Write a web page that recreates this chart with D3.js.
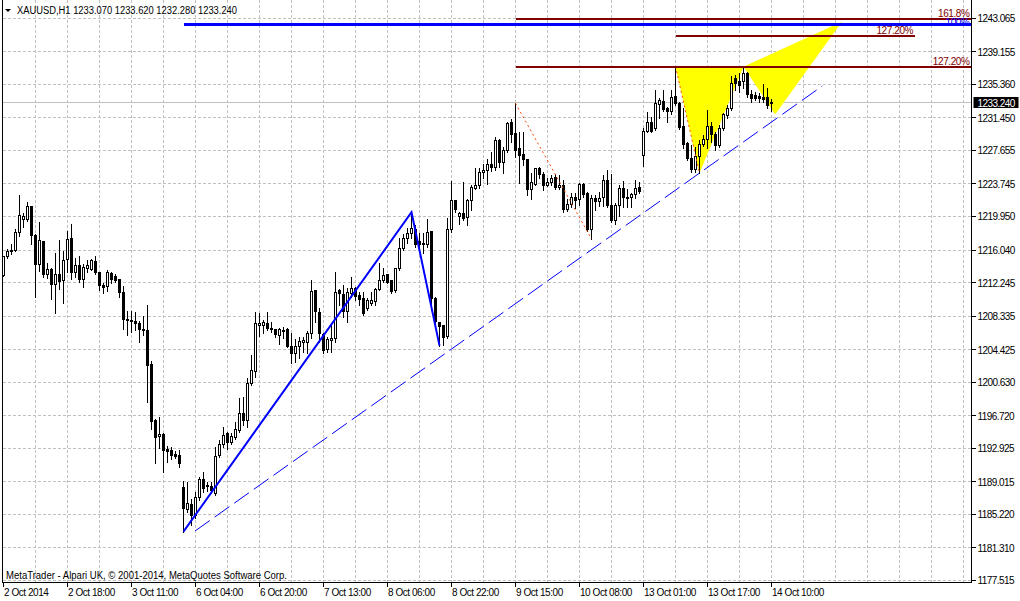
<!DOCTYPE html>
<html>
<head>
<meta charset="utf-8">
<script src="https://cdn.jsdelivr.net/npm/d3@7"></script>
<style>
  html, body { margin: 0; padding: 0; background: #fff; }
  svg { display: block; }
</style>
</head>
<body>
<script>
const width = 1020;
const height = 601;

const symbol = 'XAUUSD,H1';
const copyright = 'MetaTrader - Alpari UK, \u00a9 2001-2014, MetaQuotes Software Corp.';

// hourly bars
const opens = [
  1213.04, 1215.30, 1215.88, 1215.96, 1218.10, 1219.57, 1219.65, 1221.13, 1217.78, 1214.32,
  1217.05, 1213.16, 1213.82, 1211.99, 1213.24, 1212.46, 1214.91, 1217.43, 1213.43, 1214.29,
  1212.65, 1213.90, 1213.82, 1214.75, 1213.43, 1211.95, 1211.80, 1213.35, 1212.92, 1212.65,
  1211.10, 1207.99, 1207.87, 1207.68, 1207.52, 1206.82, 1206.70, 1202.74, 1196.13, 1194.26,
  1194.50, 1192.75, 1192.63, 1192.24, 1192.05, 1188.35, 1185.80, 1186.30, 1185.02, 1187.19,
  1189.29, 1188.63, 1188.51, 1187.66, 1192.05, 1193.30, 1194.58, 1193.57, 1194.15, 1194.97,
  1196.99, 1196.21, 1200.49, 1201.85, 1207.29, 1207.29, 1207.49, 1206.91, 1206.71, 1206.05,
  1206.63, 1206.71, 1204.84, 1203.99, 1204.77, 1205.23, 1205.23, 1206.32, 1211.26, 1208.77,
  1206.13, 1204.38, 1205.47, 1205.66, 1211.26, 1210.87, 1208.85, 1210.99, 1211.50, 1210.68,
  1210.41, 1209.16, 1209.82, 1210.02, 1211.46, 1212.43, 1213.13, 1212.43, 1211.26, 1213.83,
  1216.24, 1217.41, 1217.99, 1218.38, 1217.02, 1216.63, 1216.63, 1218.18, 1210.41, 1207.61,
  1207.18, 1205.94, 1218.38, 1221.76, 1219.93, 1220.32, 1219.81, 1221.76, 1223.23, 1223.54,
  1225.06, 1225.37, 1226.03, 1225.64, 1228.87, 1226.27, 1227.70, 1230.93, 1229.65, 1227.90,
  1227.20, 1226.54, 1223.04, 1223.70, 1225.49, 1224.87, 1223.62, 1223.89, 1224.48, 1223.31,
  1223.62, 1220.71, 1221.37, 1222.15, 1221.88, 1223.70, 1222.65, 1218.38, 1222.07, 1221.68,
  1222.15, 1224.09, 1221.22, 1219.43, 1221.22, 1223.16, 1222.15, 1222.15, 1222.46, 1223.32,
  1227.05, 1229.85, 1230.94, 1230.16, 1233.04, 1233.35, 1232.49, 1232.18, 1233.93, 1233.15,
  1230.43, 1228.49, 1226.74, 1225.38, 1226.93, 1228.29, 1228.88, 1230.43, 1229.46, 1228.21,
  1230.24, 1231.71, 1232.57, 1236.07, 1235.68, 1235.68, 1236.65, 1234.20, 1234.05, 1233.93,
  1233.81, 1233.81, 1233.07
];
const highs = [
  1215.37, 1216.15, 1216.73, 1218.48, 1222.45, 1220.35, 1221.59, 1221.21, 1217.90, 1219.34,
  1217.12, 1214.52, 1213.90, 1215.68, 1217.20, 1215.96, 1218.29, 1219.07, 1215.06, 1215.37,
  1214.40, 1214.91, 1214.99, 1215.37, 1213.51, 1212.15, 1213.70, 1213.51, 1213.24, 1212.70,
  1211.80, 1208.88, 1208.88, 1208.76, 1207.79, 1208.38, 1209.62, 1203.05, 1196.32, 1196.59,
  1194.65, 1193.13, 1193.02, 1192.55, 1192.71, 1189.13, 1189.01, 1186.96, 1187.85, 1189.60,
  1190.19, 1189.02, 1189.02, 1193.10, 1193.88, 1195.36, 1194.85, 1194.74, 1196.02, 1198.74,
  1198.86, 1201.07, 1203.79, 1208.85, 1208.65, 1207.88, 1208.85, 1207.68, 1206.83, 1206.91,
  1207.10, 1206.91, 1206.32, 1205.62, 1205.93, 1205.86, 1206.63, 1212.55, 1211.38, 1209.32,
  1206.32, 1205.94, 1207.49, 1213.44, 1211.50, 1211.96, 1211.57, 1212.93, 1211.77, 1211.19,
  1211.19, 1210.41, 1211.19, 1211.57, 1214.49, 1213.91, 1213.21, 1212.55, 1213.91, 1217.41,
  1217.87, 1218.57, 1220.44, 1218.96, 1217.99, 1217.99, 1219.66, 1218.26, 1210.60, 1207.69,
  1207.30, 1219.74, 1224.09, 1221.87, 1220.51, 1223.93, 1221.99, 1223.62, 1225.64, 1225.57,
  1226.03, 1226.65, 1227.51, 1229.26, 1228.99, 1228.09, 1231.01, 1231.32, 1233.15, 1229.84,
  1229.77, 1226.65, 1224.98, 1225.64, 1225.76, 1225.18, 1224.40, 1224.79, 1224.87, 1224.79,
  1224.21, 1221.99, 1222.65, 1222.65, 1223.82, 1223.82, 1222.77, 1222.46, 1222.46, 1222.85,
  1224.79, 1225.38, 1224.87, 1221.49, 1223.63, 1224.09, 1223.16, 1222.65, 1224.21, 1224.01,
  1230.24, 1232.18, 1231.60, 1234.71, 1233.73, 1234.71, 1232.76, 1234.71, 1237.45, 1233.35,
  1232.57, 1228.60, 1228.29, 1228.10, 1228.88, 1229.46, 1232.38, 1231.01, 1229.77, 1230.63,
  1231.99, 1232.96, 1236.38, 1236.46, 1236.65, 1237.43, 1236.85, 1234.71, 1234.51, 1234.32,
  1235.37, 1234.90, 1233.62
];
const lows = [
  1212.96, 1215.06, 1215.53, 1215.88, 1217.71, 1218.68, 1219.46, 1216.73, 1210.51, 1213.62,
  1212.85, 1212.73, 1210.32, 1208.69, 1211.49, 1209.85, 1213.43, 1212.65, 1212.85, 1212.26,
  1211.76, 1213.51, 1213.74, 1213.24, 1211.37, 1210.98, 1211.29, 1212.19, 1212.34, 1210.51,
  1206.82, 1206.16, 1206.51, 1206.74, 1205.34, 1206.16, 1198.27, 1195.16, 1191.15, 1192.94,
  1190.10, 1191.35, 1191.66, 1191.73, 1190.76, 1183.20, 1185.50, 1184.00, 1184.80, 1186.88,
  1187.85, 1187.97, 1187.74, 1187.47, 1191.94, 1193.10, 1192.79, 1193.41, 1193.96, 1194.85,
  1195.63, 1195.44, 1200.30, 1201.19, 1206.01, 1206.32, 1206.71, 1206.52, 1205.93, 1205.04,
  1205.74, 1204.77, 1202.82, 1203.02, 1203.41, 1204.18, 1204.07, 1205.74, 1207.69, 1205.35,
  1203.99, 1204.19, 1204.19, 1205.35, 1209.63, 1208.27, 1207.69, 1210.60, 1210.21, 1209.63,
  1208.46, 1209.05, 1209.63, 1209.63, 1211.38, 1212.35, 1212.16, 1210.99, 1211.19, 1213.71,
  1216.05, 1216.82, 1217.41, 1216.43, 1216.43, 1215.66, 1216.43, 1209.05, 1207.10, 1204.89,
  1204.96, 1205.74, 1218.18, 1220.51, 1219.03, 1219.54, 1218.96, 1220.71, 1223.16, 1223.31,
  1224.48, 1223.70, 1225.26, 1225.37, 1225.76, 1224.98, 1227.51, 1228.68, 1226.93, 1223.82,
  1225.96, 1222.46, 1221.99, 1223.62, 1224.40, 1223.04, 1223.54, 1223.62, 1223.16, 1223.16,
  1220.51, 1220.59, 1221.10, 1220.90, 1221.29, 1222.27, 1218.26, 1217.33, 1220.71, 1221.22,
  1221.22, 1221.10, 1219.35, 1219.04, 1220.05, 1221.10, 1221.10, 1221.10, 1222.07, 1222.65,
  1225.88, 1229.77, 1229.77, 1230.04, 1231.40, 1232.26, 1231.01, 1231.87, 1232.96, 1230.16,
  1227.90, 1226.54, 1225.18, 1225.18, 1225.00, 1228.21, 1227.90, 1228.68, 1227.71, 1228.10,
  1230.04, 1231.40, 1232.38, 1234.71, 1234.51, 1234.90, 1233.93, 1233.35, 1233.54, 1233.35,
  1233.35, 1232.57, 1232.28
];
const closes = [
  1215.26, 1215.92, 1215.96, 1218.10, 1220.12, 1219.96, 1221.13, 1217.71, 1214.32, 1217.20,
  1213.16, 1213.82, 1211.99, 1213.24, 1212.34, 1214.87, 1217.32, 1213.43, 1214.29, 1212.57,
  1213.97, 1214.29, 1214.79, 1213.43, 1211.87, 1211.72, 1213.43, 1212.65, 1212.50, 1211.10,
  1207.91, 1207.79, 1207.71, 1207.48, 1206.74, 1206.63, 1202.54, 1196.01, 1194.18, 1194.57,
  1192.63, 1192.59, 1192.12, 1191.93, 1191.15, 1185.90, 1186.42, 1185.13, 1187.19, 1189.33,
  1188.24, 1188.44, 1187.97, 1192.01, 1193.41, 1194.46, 1193.57, 1194.27, 1195.05, 1196.99,
  1196.14, 1200.49, 1201.93, 1207.41, 1207.49, 1207.61, 1206.91, 1206.79, 1206.13, 1206.71,
  1206.52, 1204.84, 1203.99, 1204.77, 1205.35, 1205.43, 1206.32, 1211.19, 1208.85, 1206.32,
  1204.30, 1205.62, 1205.74, 1211.11, 1210.95, 1208.85, 1211.07, 1211.57, 1210.60, 1210.29,
  1208.66, 1210.10, 1210.10, 1211.46, 1212.43, 1213.01, 1212.27, 1211.19, 1213.83, 1216.24,
  1217.41, 1217.99, 1218.57, 1216.63, 1216.63, 1216.82, 1218.07, 1210.41, 1207.69, 1207.10,
  1205.82, 1218.38, 1221.76, 1220.71, 1220.32, 1219.73, 1221.76, 1223.31, 1223.54, 1225.10,
  1225.37, 1226.03, 1225.64, 1228.87, 1226.27, 1227.70, 1230.82, 1229.53, 1227.59, 1227.12,
  1226.54, 1223.04, 1223.93, 1225.49, 1224.87, 1223.62, 1223.93, 1224.40, 1223.31, 1223.62,
  1220.71, 1221.37, 1222.15, 1221.76, 1223.70, 1222.54, 1218.38, 1222.07, 1221.68, 1222.07,
  1224.09, 1221.22, 1219.43, 1221.22, 1223.24, 1222.15, 1222.07, 1222.54, 1223.16, 1222.85,
  1229.92, 1230.94, 1229.85, 1233.15, 1233.42, 1232.37, 1232.18, 1233.81, 1233.15, 1230.31,
  1228.29, 1226.74, 1225.38, 1226.93, 1228.37, 1228.88, 1230.43, 1229.46, 1228.21, 1230.24,
  1231.79, 1232.49, 1235.49, 1235.49, 1235.21, 1236.65, 1234.20, 1233.74, 1233.74, 1233.74,
  1233.54, 1232.88, 1233.24
];

const priceTicks = [
  1243.065, 1239.155, 1235.360, 1231.450, 1227.655, 1223.745, 1219.950, 1216.040, 1212.245,
  1208.335, 1204.425, 1200.630, 1196.720, 1192.925, 1189.015, 1185.220, 1181.310, 1177.515
];
const timeLabels = [
  '2 Oct 2014', '2 Oct 18:00', '3 Oct 11:00', '6 Oct 04:00', '6 Oct 20:00', '7 Oct 13:00',
  '8 Oct 06:00', '8 Oct 22:00', '9 Oct 15:00', '10 Oct 08:00', '13 Oct 01:00', '13 Oct 17:00',
  '14 Oct 10:00'
];
const barsPerLabel = 16;
const barsPerGrid = 8;
const visibleBars = 242;

// objects drawn on the chart, as [bar index, price]
const zigzag = [[45, 1183.20], [102, 1220.44], [109, 1204.89]];
const trendDashed = [[47.9, 1183.27], [204.7, 1235.17]];
const dottedLines = [
  [[128, 1233.15], [147, 1217.33]],
  [[168, 1237.45], [174, 1225.00]]
];
const triangles = [
  [[168, 1237.42], [174, 1225.00], [185, 1237.42]],
  [[185, 1237.42], [209.6, 1242.67], [192.9, 1231.84]]
];
const fibNames = ['161.8%', '100%', '127.20%', '127.20%'];
const fibPrices = [1242.99, 1242.37, 1241.03, 1237.41];
const fibFrom = [128, 45, 168, 128];
const fibTo = [visibleBars, visibleBars, 227.9, visibleBars];

const colors = {
  grid: '#c0c0c0',
  bull: '#ffffff',
  bear: '#000000',
  fib: '#800000',
  blue: '#0000ff',
  dotted: '#ff4500',
  triangle: '#ffff00'
};

const plotLeft = 2.5;
const plotRight = 971.5;
const plotBottom = 582.5;

const x = d3.scaleLinear()
    .domain([0, visibleBars])
    .range([3.5, 971.5]);

const y = d3.scaleLinear()
    .domain([1177.515, 1243.065])
    .range([580.3, 18.3]);

// keep 1px lines on the pixel grid
const snap = v => Math.round(v - 0.5) + 0.5;

const svg = d3.select('body').append('svg')
    .attr('width', width)
    .attr('height', height)
    .attr('font-family', "'Liberation Sans', Arial, sans-serif")
    .attr('font-size', 10);

// grid
const gridV = svg.append('g')
    .attr('stroke', colors.grid)
    .attr('stroke-dasharray', '3,2')
    .attr('shape-rendering', 'crispEdges');
gridV.selectAll('line')
    .data(d3.range(barsPerGrid, visibleBars, barsPerGrid))
    .join('line')
    .attr('x1', d => snap(x(d)))
    .attr('x2', d => snap(x(d)))
    .attr('y1', 0)
    .attr('y2', plotBottom);

const gridH = svg.append('g')
    .attr('stroke', colors.grid)
    .attr('stroke-dasharray', '3,2')
    .attr('shape-rendering', 'crispEdges');
gridH.selectAll('line')
    .data(priceTicks)
    .join('line')
    .attr('x1', plotLeft)
    .attr('x2', plotRight)
    .attr('y1', d => snap(y(d)))
    .attr('y2', d => snap(y(d)));

const last = closes.length - 1;

// bid line
svg.append('line')
    .attr('x1', plotLeft)
    .attr('x2', plotRight)
    .attr('y1', snap(y(closes[last])))
    .attr('y2', snap(y(closes[last])))
    .attr('stroke', colors.grid)
    .attr('shape-rendering', 'crispEdges');

// yellow triangles sit behind the bars
svg.append('g')
    .selectAll('polygon')
    .data(triangles)
    .join('polygon')
    .attr('points', d => d.map(p => [x(p[0]), y(p[1])].join(',')).join(' '))
    .attr('fill', colors.triangle);

// candles
const bars = d3.range(opens.length).map(i => ({
    i,
    o: opens[i],
    h: highs[i],
    l: lows[i],
    c: closes[i]
}));

const bar = svg.append('g')
    .attr('shape-rendering', 'crispEdges')
    .selectAll('g')
    .data(bars)
    .join('g');

bar.append('line')
    .attr('x1', d => snap(x(d.i)))
    .attr('x2', d => snap(x(d.i)))
    .attr('y1', d => Math.round(y(d.h)))
    .attr('y2', d => Math.round(y(d.l)) + 1)
    .attr('stroke', '#000');

bar.append('rect')
    .attr('x', d => snap(x(d.i)) - 1)
    .attr('y', d => snap(y(Math.max(d.o, d.c))))
    .attr('width', 2)
    .attr('height', d => Math.max(snap(y(Math.min(d.o, d.c))) - snap(y(Math.max(d.o, d.c))), 1))
    .attr('fill', d => d.c >= d.o ? colors.bull : colors.bear)
    .attr('stroke', '#000');

// hand-drawn objects
const line = d3.line()
    .x(d => x(d[0]))
    .y(d => y(d[1]));

svg.append('path')
    .attr('d', line(zigzag))
    .attr('fill', 'none')
    .attr('stroke', colors.blue)
    .attr('stroke-width', 2);

svg.append('path')
    .attr('d', line(trendDashed))
    .attr('fill', 'none')
    .attr('stroke', colors.blue)
    .attr('stroke-dasharray', '18,6');

svg.append('g')
    .selectAll('path')
    .data(dottedLines)
    .join('path')
    .attr('d', line)
    .attr('fill', 'none')
    .attr('stroke', colors.dotted)
    .attr('stroke-dasharray', '2,3');

const fibs = fibNames.map((name, k) => ({
    name,
    price: fibPrices[k],
    from: fibFrom[k],
    to: fibTo[k],
    color: name === '100%' ? colors.blue : colors.fib,
    weight: name === '100%' ? 3 : 2,
    // the 100% label hides under its own thick line, as in MT4
    dy: name === '100%' ? 1.5 : -1.8
}));

const fib = svg.append('g')
    .selectAll('g')
    .data(fibs)
    .join('g');

fib.append('text')
    .attr('x', d => Math.min(x(d.to), plotRight) - 2)
    .attr('y', d => y(d.price) + d.dy)
    .attr('text-anchor', 'end')
    .attr('letter-spacing', -0.4)
    .attr('fill', d => d.color)
    .text(d => d.name);

fib.append('line')
    .attr('x1', d => x(d.from))
    .attr('x2', d => Math.min(x(d.to), plotRight))
    .attr('y1', d => y(d.price))
    .attr('y2', d => y(d.price))
    .attr('stroke', d => d.color)
    .attr('stroke-width', d => d.weight)
    .attr('shape-rendering', 'crispEdges');

// frame
const frame = svg.append('g')
    .attr('stroke', '#000')
    .attr('shape-rendering', 'crispEdges');
frame.append('line').attr('x1', plotLeft).attr('x2', plotLeft).attr('y1', 0).attr('y2', plotBottom);
frame.append('line').attr('x1', plotLeft).attr('x2', plotRight).attr('y1', plotBottom).attr('y2', plotBottom);
frame.append('line').attr('x1', plotRight).attr('x2', plotRight).attr('y1', 0).attr('y2', plotBottom);

// price scale
const priceAxis = svg.append('g')
    .selectAll('g')
    .data(priceTicks)
    .join('g');

priceAxis.append('line')
    .attr('x1', plotRight)
    .attr('x2', plotRight + 4)
    .attr('y1', d => snap(y(d)))
    .attr('y2', d => snap(y(d)))
    .attr('stroke', '#000')
    .attr('shape-rendering', 'crispEdges');

priceAxis.append('text')
    .attr('x', plotRight + 6)
    .attr('y', d => y(d) + 4)
    .attr('letter-spacing', -0.55)
    .attr('fill', '#000')
    .text(d => d.toFixed(3));

// bid marker on the scale
const bidY = y(closes[last]);
svg.append('rect')
    .attr('x', plotRight + 2)
    .attr('y', Math.round(bidY) - 6)
    .attr('width', 45)
    .attr('height', 11)
    .attr('fill', '#000');
svg.append('text')
    .attr('x', plotRight + 6)
    .attr('y', bidY + 4)
    .attr('letter-spacing', -0.55)
    .attr('fill', '#fff')
    .text(closes[last].toFixed(3));

// time scale
const timeAxis = svg.append('g')
    .selectAll('g')
    .data(timeLabels)
    .join('g');

timeAxis.append('line')
    .attr('x1', (d, k) => snap(x(k * barsPerLabel)))
    .attr('x2', (d, k) => snap(x(k * barsPerLabel)))
    .attr('y1', plotBottom)
    .attr('y2', plotBottom + 4)
    .attr('stroke', '#000')
    .attr('shape-rendering', 'crispEdges');

timeAxis.append('text')
    .attr('x', (d, k) => x(k * barsPerLabel) + 0.5)
    .attr('y', 595.5)
    .attr('letter-spacing', -0.45)
    .attr('fill', '#000')
    .text(d => d);

// header and copyright
svg.append('polygon')
    .attr('points', '5,9 11,9 8,12')
    .attr('fill', '#000');

svg.append('text')
    .attr('x', 17)
    .attr('y', 13.5)
    .attr('fill', '#000')
    .attr('textLength', 220)
    .attr('lengthAdjust', 'spacingAndGlyphs')
    .text(`${symbol}  ${[opens[last], highs[last], lows[last], closes[last]].map(v => v.toFixed(3)).join(' ')}`);

svg.append('text')
    .attr('x', 6)
    .attr('y', 578.5)
    .attr('fill', '#000')
    .attr('textLength', 281)
    .attr('lengthAdjust', 'spacingAndGlyphs')
    .text(copyright);
</script>
</body>
</html>
